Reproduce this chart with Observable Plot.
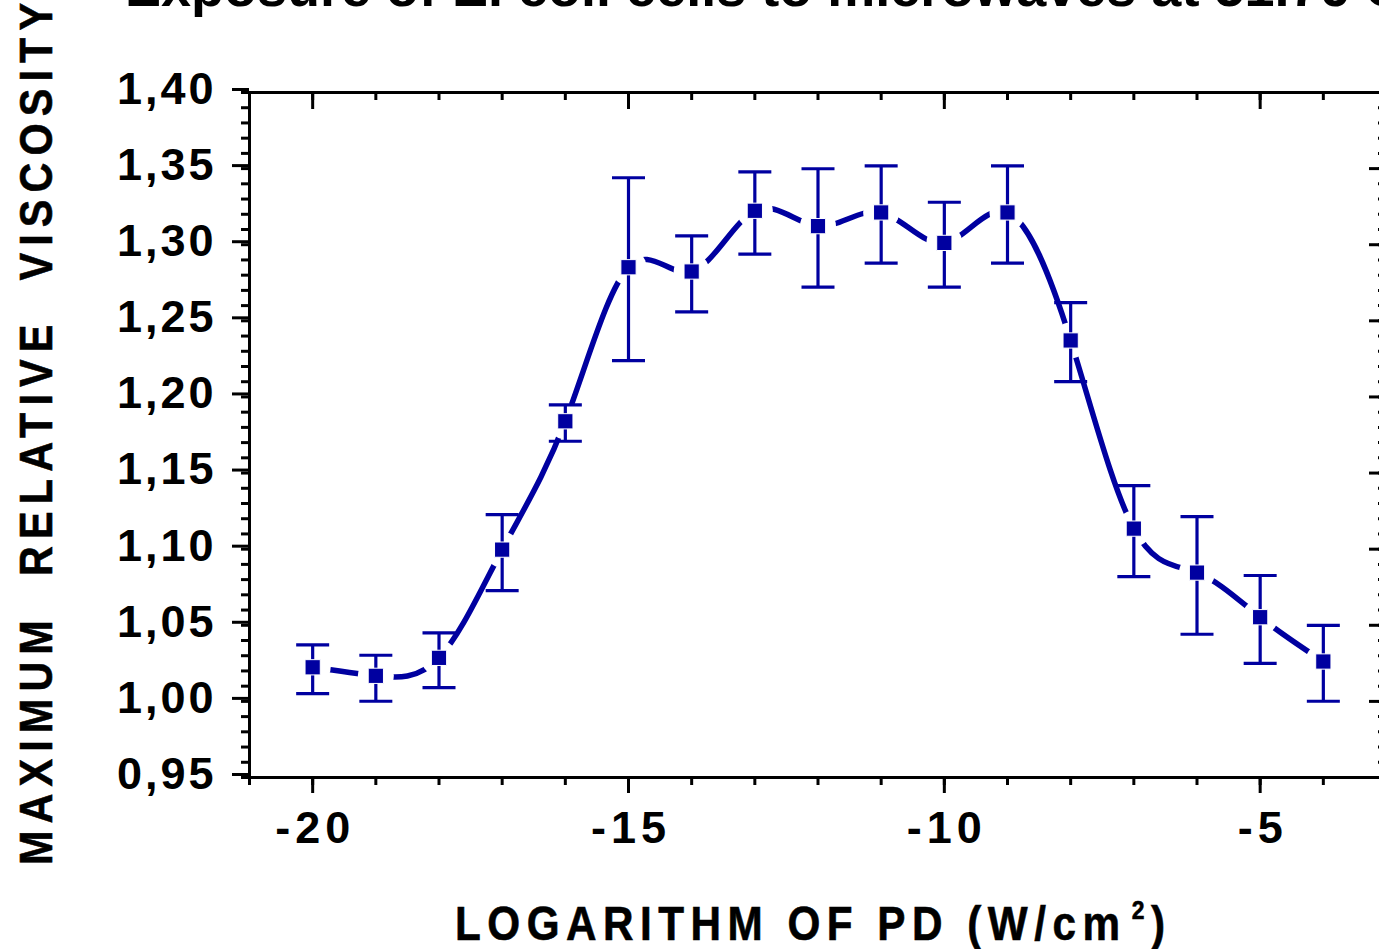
<!DOCTYPE html>
<html>
<head>
<meta charset="utf-8">
<script src="https://cdn.jsdelivr.net/npm/d3@7"></script>
<script src="https://cdn.jsdelivr.net/npm/@observablehq/plot@0.6"></script>
<style>
html, body { margin: 0; padding: 0; background: #fff; overflow: hidden; width: 1379px; height: 949px; }
#chart { width: 1379px; height: 949px; overflow: hidden; }
#chart svg { max-width: none !important; display: block; }
</style>
</head>
<body>
<div id="chart"></div>
<script>
// ---- data ----
const logPD     = [-20, -19, -18, -17, -16, -15, -14, -13, -12, -11, -10, -9, -8, -7, -6, -5, -4];
const viscosity = [1.0224, 1.0168, 1.0286, 1.0997, 1.1840, 1.2852, 1.2824, 1.3223, 1.3122, 1.3212, 1.3012, 1.3212, 1.2371, 1.1135, 1.0846, 1.0553, 1.0262];
const errHigh   = [1.0371, 1.0303, 1.0450, 1.1227, 1.1948, 1.3440, 1.3058, 1.3479, 1.3499, 1.3518, 1.3279, 1.3518, 1.2620, 1.1418, 1.1214, 1.0827, 1.0500];
const errLow    = [1.0051, 1.0001, 1.0091, 1.0728, 1.1709, 1.2239, 1.2559, 1.2938, 1.2721, 1.2879, 1.2721, 1.2879, 1.2101, 1.0820, 1.0441, 1.0250, 1.0001];

const xMajorTicks = [-20, -15, -10, -5];
const xMinorTicks = [-21, -20, -19, -18, -17, -16, -15, -14, -13, -12, -11, -10, -9, -8, -7, -6, -5, -4, -3];
const yMajorTicks = [0.95, 1.00, 1.05, 1.10, 1.15, 1.20, 1.25, 1.30, 1.35, 1.40];
const yMinorTicks = d3.range(95, 141).map(d => d / 100);

const titleText  = "Exposure of E. coli cells to microwaves at 51.76 GHz";
const yLabelText = "MAXIMUM  RELATIVE  VISCOSITY";
const xLabelMain = "LOGARITHM OF PD (W/cm";

// ---- layout ----
const W = 1400, H = 949;
const mL = 249, mR = 14, mT = 92, mB = 172;
const fw = W - mL - mR, fh = H - mT - mB;
const blue = "#0000a0";

const data = logPD.map((x, i) => ({x, y: viscosity[i], lo: errLow[i], hi: errHigh[i]}));

const capSymbol = {
  draw(ctx, size) {
    const r = Math.sqrt(size / Math.PI);
    ctx.moveTo(-r, 0);
    ctx.lineTo(r, 0);
  }
};

const fmtY = d => d.toFixed(2).replace(".", ",");

const plot = Plot.plot({
  width: W, height: H,
  marginLeft: mL, marginRight: mR, marginTop: mT, marginBottom: mB,
  x: {domain: [-21, -3], label: null},
  y: {domain: [0.95, 1.40], label: null},
  style: {fontFamily: "'Liberation Sans', Arial, sans-serif", fontWeight: "bold", fontSize: "45px", color: "black", background: "white", overflow: "visible", maxWidth: "none"},
  marks: [
    Plot.line(data, {x: "x", y: "y", curve: "natural", stroke: blue, strokeWidth: 5.5}),
    Plot.dot(data, {x: "x", y: "y", r: 18, fill: "white", stroke: null}),
    Plot.ruleX(data, {x: "x", y1: "lo", y2: "hi", stroke: blue, strokeWidth: 3.2}),
    Plot.dot(data, {x: "x", y: "hi", symbol: capSymbol, r: 16.5, fill: "none", stroke: blue, strokeWidth: 3.2}),
    Plot.dot(data, {x: "x", y: "lo", symbol: capSymbol, r: 16.5, fill: "none", stroke: blue, strokeWidth: 3.2}),
    Plot.dot(data, {x: "x", y: "y", symbol: "square", r: 8.6, fill: blue, stroke: "white", strokeWidth: 1}),
    // mirrored inward ticks (top and right)
    Plot.ruleX(xMajorTicks, {x: d => d, insetBottom: fh - 17, stroke: "black", strokeWidth: 3}),
    Plot.ruleX(xMinorTicks, {x: d => d, insetBottom: fh - 8, stroke: "black", strokeWidth: 3}),
    Plot.ruleY(yMajorTicks, {y: d => d, insetLeft: fw - 17, stroke: "black", strokeWidth: 3}),
    Plot.ruleY(yMinorTicks, {y: d => d, insetLeft: fw - 8, stroke: "black", strokeWidth: 3}),
    // axes
    Plot.axisY(yMinorTicks, {tickSize: 8, tickFormat: () => "", strokeWidth: 3, label: null}),
    Plot.axisY(yMajorTicks, {tickSize: 17, tickPadding: 16, tickFormat: fmtY, strokeWidth: 3, label: null, dy: -3}),
    Plot.axisX(xMinorTicks, {tickSize: 8, tickFormat: () => "", strokeWidth: 3, label: null}),
    Plot.axisX(xMajorTicks, {tickSize: 16, tickPadding: 18, tickFormat: d => `${d}`, strokeWidth: 3, label: null}),
    Plot.frame({stroke: "black", strokeWidth: 3})
  ]
});

plot.style.maxWidth = "none";
document.getElementById("chart").appendChild(plot);

const svg = d3.select(plot);
const sans = "'Liberation Sans', Arial, sans-serif";

// tick-label styling (bold, wide spacing as in the reference)
svg.selectAll('g[aria-label="y-axis tick label"] text')
  .attr("font-size", 45).attr("font-weight", "bold").attr("letter-spacing", 3);
svg.selectAll('g[aria-label="x-axis tick label"] text')
  .attr("font-size", 45).attr("font-weight", "bold").attr("letter-spacing", 5).attr("dx", 2.5);

const squeeze = 0.88;

svg.append("text")
  .attr("x", 125).attr("y", 6)
  .attr("text-anchor", "start")
  .attr("font-family", sans)
  .attr("font-weight", "bold").attr("font-size", 54)
  .attr("fill", "black")
  .text(titleText);

svg.append("text")
  .attr("transform", `translate(52,865) rotate(-90) scale(${squeeze},1)`)
  .attr("font-family", sans).attr("font-weight", "bold").attr("font-size", 47)
  .attr("text-anchor", "start")
  .attr("textLength", 862 / squeeze).attr("lengthAdjust", "spacing")
  .attr("fill", "black").attr("stroke", "black").attr("stroke-width", 0.6)
  .style("white-space", "pre")
  .text(yLabelText);

const xl = svg.append("text")
  .attr("transform", `translate(455,940) scale(${squeeze},1)`)
  .attr("text-anchor", "start")
  .attr("font-family", sans).attr("font-weight", "bold").attr("font-size", 48)
  .attr("textLength", 710 / squeeze).attr("lengthAdjust", "spacing")
  .attr("fill", "black").attr("stroke", "black").attr("stroke-width", 0.6);
xl.append("tspan").text(xLabelMain);
xl.append("tspan").attr("font-size", 26).attr("dy", -21).attr("dx", 6).text("2");
xl.append("tspan").attr("dy", 21).text(")");
</script>
</body>
</html>
